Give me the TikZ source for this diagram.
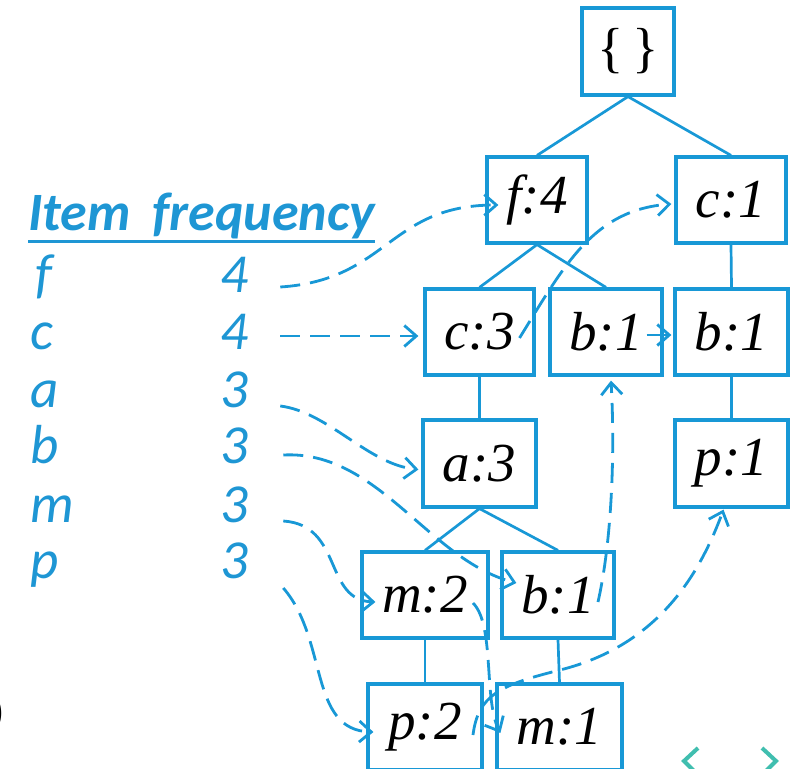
\documentclass[tikz,border=0pt]{standalone}
\usepackage{fontspec}
\setmainfont{Liberation Serif}
\newfontfamily\calfont{Carlito}
\usetikzlibrary{arrows.meta,calc}
\definecolor{lineblue}{RGB}{24,152,214}
\definecolor{textblue}{RGB}{30,150,212}
\definecolor{navteal}{RGB}{64,190,175}
\begin{document}
\begin{tikzpicture}[x=1pt,y=-1pt,
  tbox/.style={draw=lineblue,line width=3.2pt,inner sep=0pt,font=\fontsize{55}{60}\selectfont\itshape,text=black},
  tedge/.style={draw=lineblue,line width=2.7pt},
  link/.style={draw=lineblue,line width=2.8pt,dash pattern=on 20pt off 10pt,-{Straight Barb[length=12pt,width=21pt]}},
  item/.style={anchor=base west,inner sep=0pt,text=textblue,font=\calfont\itshape\fontsize{55}{60}\selectfont},
  head/.style={anchor=base west,inner sep=0pt,text=textblue,font=\calfont\bfseries\itshape\fontsize{54}{60}\selectfont},
  nav/.style={draw=navteal,line width=4pt},
]
\useasboundingbox (0,0) rectangle (800,768);

% tree boxes
\node[tbox,minimum width=92pt,minimum height=87pt] (root) at (628,51.5) {\upshape\{\,\}};
\node[tbox,minimum width=100pt,minimum height=86pt] (f4) at (537,200) {f:4};
\node[tbox,minimum width=110pt,minimum height=86pt] (c1) at (731,200) {c:1};
\node[tbox,minimum width=109pt,minimum height=86pt] (c3) at (479.5,332) {c:3};
\node[tbox,minimum width=112pt,minimum height=86pt] (b1m) at (606,332) {b:1};
\node[tbox,minimum width=113pt,minimum height=86pt] (b1r) at (731.5,332) {b:1};
\node[tbox,minimum width=113pt,minimum height=87pt] (a3) at (479.5,463.5) {a:3};
\node[tbox,minimum width=113pt,minimum height=87pt] (p1) at (731.5,463.5) {p:1};
\node[tbox,minimum width=126pt,minimum height=86pt] (m2) at (425,595) {m:2};
\node[tbox,minimum width=112pt,minimum height=86pt] (b1l) at (558,595) {b:1};
\node[tbox,minimum width=114pt,minimum height=86pt] (p2) at (425,727) {p:2};
\node[tbox,minimum width=125pt,minimum height=86pt] (m1) at (559.5,727) {m:1};

% tree edges
\draw[tedge] (root.south) -- (f4.north);
\draw[tedge] (root.south) -- (c1.north);
\draw[tedge] (f4.south) -- (c3.north);
\draw[tedge] (f4.south) -- (b1m.north);
\draw[tedge] (c1.south) -- (b1r.north);
\draw[tedge] (c3.south) -- (a3.north);
\draw[tedge] (b1r.south) -- (p1.north);
\draw[tedge] (a3.south) -- (m2.north);
\draw[tedge] (a3.south) -- (b1l.north);
\draw[tedge] (m2.south) -- (p2.north);
\draw[tedge] (b1l.south) -- (m1.north);

% header table
\node[head] (hd) at (28,230) {Item\hspace{22pt}frequency};
\draw[textblue,line width=3pt] ($(hd.base west)+(0,11)$) -- ($(hd.base east)+(0,11)$);
\node[item] (if) at (35,292) {f};
\node[item] (ic) at (30,349) {c};
\node[item] (ia) at (30,407) {a};
\node[item] (ib) at (30,463) {b};
\node[item] (im) at (30,522) {m};
\node[item] (ip) at (30,578) {p};
\node[item] (df) at (220,292) {4};
\node[item] (dc) at (220,349) {4};
\node[item] (da) at (220,407) {3};
\node[item] (db) at (220,463) {3};
\node[item] (dm) at (220,522) {3};
\node[item] (dp) at (220,578) {3};

\coordinate (sf) at ($(df.base east)+(32,-5)$);
\coordinate (sc) at ($(dc.base east)+(32,-13)$);
\coordinate (sa) at ($(da.base east)+(32,-1)$);
\coordinate (sb) at ($(db.base east)+(35,-8)$);
\coordinate (sm) at ($(dm.base east)+(35,-1)$);
\coordinate (sp) at ($(dp.base east)+(35,10)$);

% node links
\draw[link] (sf) .. controls +(108,-7) and +(-110,0) .. ($(f4.west)+(13,5)$);
\draw[link] (sc) -- ($(c3.west)+(-5,4)$);
\draw[link] ($(c3.center)+(40,6)$) .. controls +(45,-73) and +(-78,6) .. ($(c1.west)+(-3,4)$);
\draw[link] ($(b1m.east)+(-17,3)$) -- ($(b1r.west)+(-2,3)$);
\draw[link] (sa) .. controls +(48,6) and +(-50,-5) .. ($(a3.west)+(-3,6)$);
\draw[link] (sb) .. controls +(95,-5) and +(-88,-23) .. ($(b1l.west)+(16,-12)$);
\draw[link] (sm) .. controls +(60,4) and +(-52,-2) .. ($(m2.west)+(15,7)$);
\draw[link] (sp) .. controls +(45,52) and +(-65,-2) .. ($(p2.west)+(7,5)$);
\draw[link] ($(b1l.center)+(40,7)$) .. controls +(14,-62) and +(4,71) .. ($(b1m.south)+(5,4)$);
\draw[link] ($(m2.center)+(48,8)$) .. controls +(22,22) and +(-17,-33) .. ($(m1.west)+(5,6)$);
\coordinate (pm) at (560,670);
\draw[link] ($(p2.center)+(48,8)$) .. controls +(5,-40) and +(-60,15) .. (pm) .. controls +(100,-25) and +(-23,62) .. ($(p1.south)+(-8,1)$);

% page leftovers
\node[anchor=east,inner sep=0pt,font=\calfont\fontsize{40}{48}\selectfont] (paren) at (5,714) {)};
\draw[nav] (698,748) -- (684,761) -- (698,775);
\draw[nav] (762,748) -- (776,761) -- (762,775);
\end{tikzpicture}
\end{document}
